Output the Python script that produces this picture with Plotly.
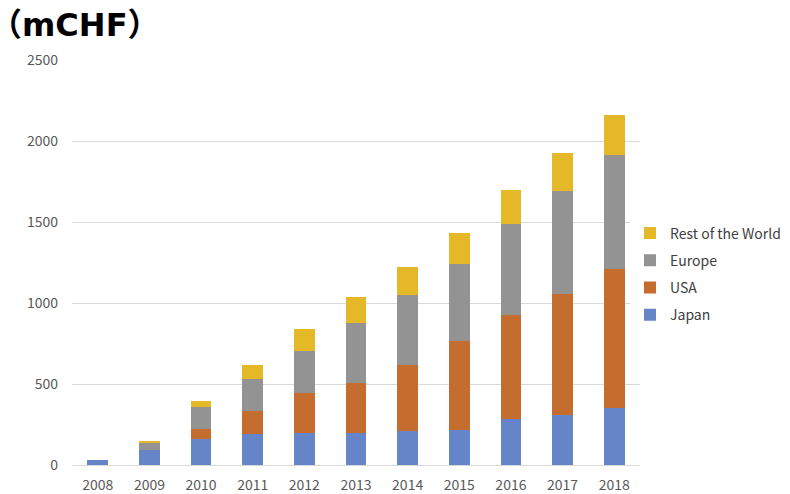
import plotly.graph_objects as go

years = ["2008", "2009", "2010", "2011", "2012", "2013", "2014", "2015", "2016", "2017", "2018"]
japan = [33, 95, 162, 194, 197, 195, 212, 216, 283, 306, 352]
usa = [0, 0, 58, 141, 245, 313, 407, 548, 644, 751, 857]
europe = [0, 43, 140, 195, 263, 366, 431, 478, 562, 634, 704]
rest_of_world = [0, 8, 37, 87, 136, 160, 173, 188, 207, 233, 245]

series = [
    ("Japan", japan, "#6685C8", 4),
    ("USA", usa, "#C46D2F", 3),
    ("Europe", europe, "#939393", 2),
    ("Rest of the World", rest_of_world, "#E4B826", 1),
]

fig = go.Figure()
for name, vals, color, rank in series:
    fig.add_trace(go.Bar(
        x=years, y=vals, name=name, legendgroup=name, legendrank=rank,
        marker=dict(color=color, line=dict(width=0)),
    ))

font_family = "Noto Sans CJK JP, Noto Sans, sans-serif"
cjk = "font-family:'Noto Sans CJK JP'"
title_text = f"<b><span style=\"{cjk}\">（</span>mCHF<span style=\"{cjk}\">）</span></b>"

fig.update_layout(
    width=782, height=486,
    barmode="stack", bargap=0.6,
    plot_bgcolor="white", paper_bgcolor="white",
    margin=dict(l=64, r=150, t=52, b=29, autoexpand=False),
    font=dict(family=font_family, size=14, color="#595959"),
    legend=dict(
        traceorder="grouped", tracegroupgap=6,
        x=0.9824, xanchor="left", y=0.4716, yanchor="middle",
        font=dict(size=14, color="#404040"),
        itemwidth=30,
    ),
    annotations=[dict(
        text=title_text, xref="paper", yref="paper",
        x=-84/568, xanchor="left", y=1 + 38/405, yanchor="middle",
        showarrow=False,
        font=dict(size=32, color="black", family="DejaVu Sans, Noto Sans CJK JP, sans-serif"),
    )],
)
fig.update_yaxes(
    range=[0, 2500], dtick=500, showgrid=True, gridcolor="#D9D9D9", gridwidth=1,
    zeroline=True, zerolinecolor="#D9D9D9", zerolinewidth=1,
    ticklabelstandoff=13, showline=False, automargin=False,
)
fig.update_xaxes(
    showgrid=False, showline=False, ticklabelstandoff=10, automargin=False,
)

fig.write_html("out.html")
